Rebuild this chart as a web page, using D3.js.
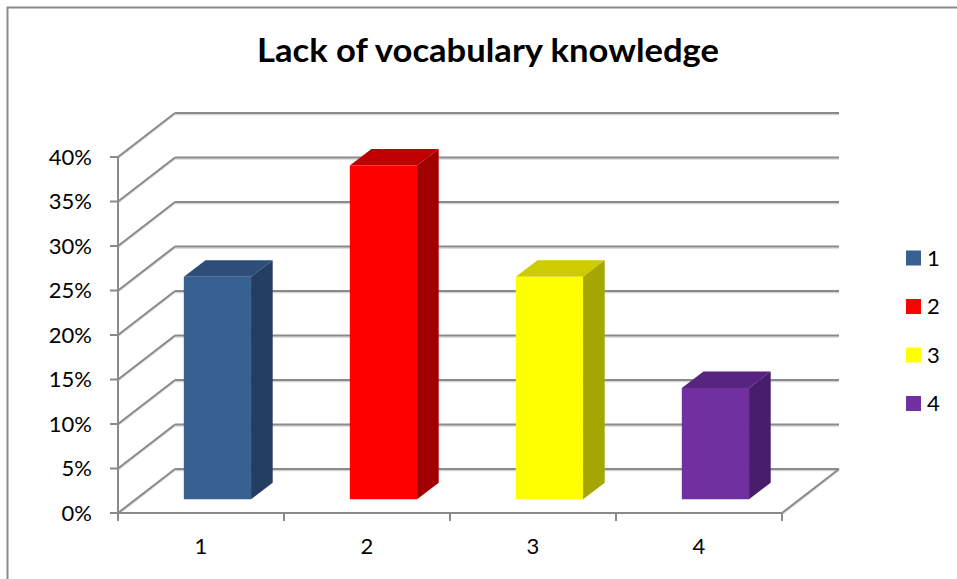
<!DOCTYPE html>
<html>
<head>
<meta charset="utf-8">
<script src="https://cdn.jsdelivr.net/npm/d3@7"></script>
<style>
  html, body { margin: 0; padding: 0; background: #fff; }
  svg { display: block; }
  text { font-family: Lato, "Liberation Sans", sans-serif; fill: #000; }
</style>
</head>
<body>
<svg id="chart" width="957" height="579"></svg>
<script>
// Chart data
const titleText = "Lack of vocabulary knowledge";
const categories = ["1", "2", "3", "4"];
const values = [0.25, 0.375, 0.25, 0.125];
const yTicks = [0, 0.05, 0.10, 0.15, 0.20, 0.25, 0.30, 0.35, 0.40];
const frontColors = ["#386192", "#FF0000", "#FFFF00", "#7030A0"];
const topColors = ["#2c4e78", "#C00000", "#CCCC00", "#57247F"];
const sideColors = ["#233E60", "#A00000", "#A6A600", "#481D6B"];

const svg = d3.select("#chart");
const W = 957, H = 579;

// Outer chart frame (left and top edges visible)
svg.append("path")
  .attr("d", `M${W},7.5 L7.5,7.5 L7.5,${H}`)
  .attr("fill", "none").attr("stroke", "#8a8a8a").attr("stroke-width", 2);

// Title
svg.append("text")
  .attr("x", 488).attr("y", 62)
  .attr("text-anchor", "middle")
  .attr("font-size", 33).attr("font-weight", "bold")
  .attr("textLength", 462).attr("lengthAdjust", "spacingAndGlyphs")
  .text(titleText);

// Scales: category position on the front plane, value height on the front plane
const x = d3.scaleLinear().domain([0, categories.length]).range([118, 782]);
const y = d3.scaleLinear().domain([0, 0.4]).range([513, 157]);
// Depth vector of the 3D floor (front -> back)
const DX = 57, DY = -44;
const proj = (c, v, f) => [x(c) + f * DX, y(v) + f * DY];

const grid = svg.append("g");
const gridColor = "#8a8a8a";
const shadowColor = "#d4d4d4";

function gline(p1, p2, w = 2) {
  grid.append("line")
    .attr("x1", p1[0]).attr("y1", p1[1] + 1.6).attr("x2", p2[0]).attr("y2", p2[1] + 1.6)
    .attr("stroke", shadowColor).attr("stroke-width", 1.2);
  grid.append("line")
    .attr("x1", p1[0]).attr("y1", p1[1]).attr("x2", p2[0]).attr("y2", p2[1])
    .attr("stroke", gridColor).attr("stroke-width", w);
}

// Side wall diagonals and back wall gridlines
yTicks.forEach(t => {
  gline(proj(0, t, 0), proj(0, t, 1));
  gline(proj(0, t, 1), proj(categories.length, t, 1));
});
// Floor right edge
gline(proj(categories.length, 0, 0), proj(categories.length, 0, 1));

// Bars (3D columns)
const bx0 = 0.29, bx1 = 0.695;   // bar extent within a category
const f0 = 0.31, f1 = 0.69;      // bar extent in depth
const bars = svg.append("g");
const poly = pts => "M" + pts.map(p => p.join(",")).join("L") + "Z";

values.forEach((v, i) => {
  const g = bars.append("g");
  const c0 = i + bx0, c1 = i + bx1;
  // top face
  g.append("path")
    .attr("d", poly([proj(c0, v, f0), proj(c1, v, f0), proj(c1, v, f1), proj(c0, v, f1)]))
    .attr("fill", topColors[i]);
  // right side face
  g.append("path")
    .attr("d", poly([proj(c1, 0, f0), proj(c1, v, f0), proj(c1, v, f1), proj(c1, 0, f1)]))
    .attr("fill", sideColors[i]);
  // front face
  g.append("path")
    .attr("d", poly([proj(c0, 0, f0), proj(c1, 0, f0), proj(c1, v, f0), proj(c0, v, f0)]))
    .attr("fill", frontColors[i]);
});

// Front value axis with ticks
const axisG = svg.append("g");
axisG.append("line")
  .attr("x1", x(0)).attr("x2", x(0)).attr("y1", y(0.4)).attr("y2", y(0))
  .attr("stroke", gridColor).attr("stroke-width", 2);
yTicks.forEach(t => {
  axisG.append("line")
    .attr("x1", x(0) - 8).attr("x2", x(0)).attr("y1", y(t)).attr("y2", y(t))
    .attr("stroke", gridColor).attr("stroke-width", 2);
  axisG.append("text")
    .attr("x", 92).attr("y", y(t)).attr("dy", "0.36em")
    .attr("text-anchor", "end").attr("font-size", 22)
    .text(d3.format(".0%")(t));
});

// Front category axis with ticks
axisG.append("line")
  .attr("x1", x(0)).attr("x2", x(categories.length)).attr("y1", y(0)).attr("y2", y(0))
  .attr("stroke", gridColor).attr("stroke-width", 2);
d3.range(categories.length + 1).forEach(k => {
  axisG.append("line")
    .attr("x1", x(k)).attr("x2", x(k)).attr("y1", y(0)).attr("y2", y(0) + 8)
    .attr("stroke", gridColor).attr("stroke-width", 2);
});
categories.forEach((c, i) => {
  axisG.append("text")
    .attr("x", x(i + 0.5)).attr("y", 546).attr("dy", "0.36em")
    .attr("text-anchor", "middle").attr("font-size", 22)
    .text(c);
});

// Legend
const legend = svg.append("g");
categories.forEach((c, i) => {
  const ly = 258 + i * 48.5;
  legend.append("rect")
    .attr("x", 906).attr("y", ly - 7.5).attr("width", 15).attr("height", 15)
    .attr("fill", frontColors[i]);
  legend.append("text")
    .attr("x", 927).attr("y", ly).attr("dy", "0.36em")
    .attr("font-size", 22)
    .text(c);
});
</script>
</body>
</html>
